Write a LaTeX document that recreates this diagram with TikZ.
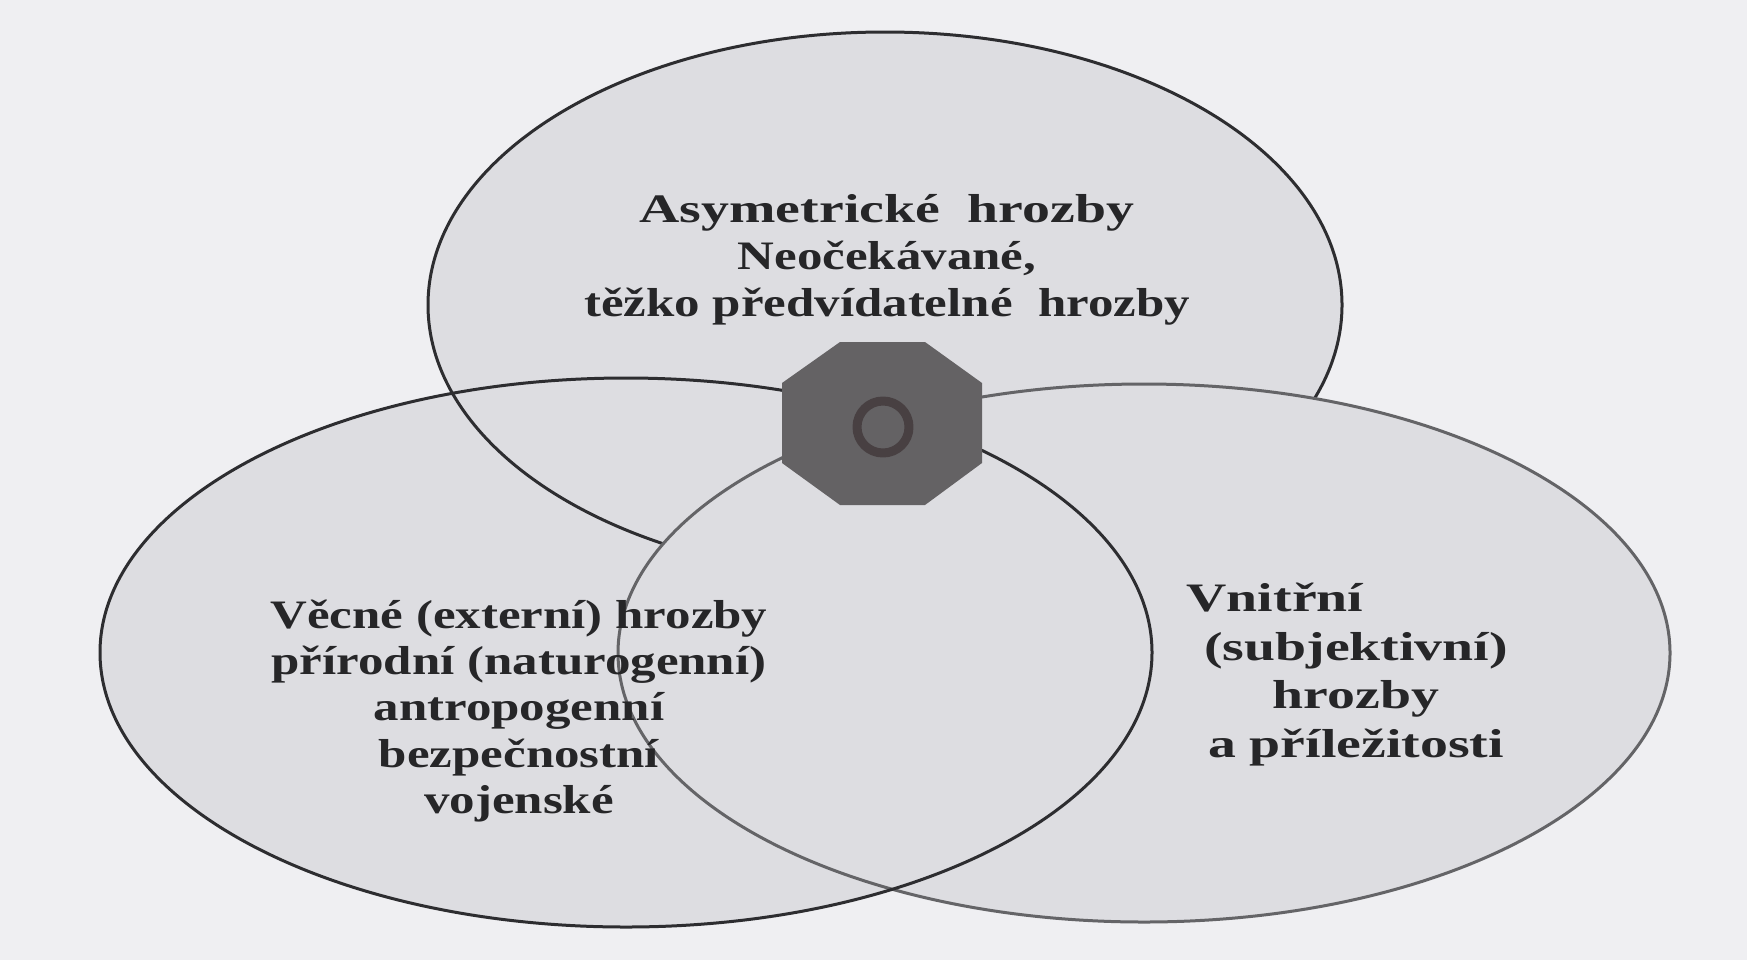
\documentclass[tikz,border=0pt]{standalone}
\usepackage{fontspec}
\setmainfont{Liberation Serif}
\newfontfamily\lblfont[FakeStretch=1.26]{Liberation Serif}
\newfontfamily\lblwide[FakeStretch=1.38]{Liberation Serif}
\usepackage{xcolor}
\usepackage{tikz}
\definecolor{paper}{RGB}{239,239,242}
\definecolor{disk}{RGB}{221,221,225}
\definecolor{rim}{RGB}{45,45,48}
\definecolor{rimlight}{RGB}{100,100,103}
\definecolor{core}{RGB}{100,98,100}
\definecolor{corering}{RGB}{72,64,66}
\definecolor{ink}{RGB}{38,38,40}

\begin{document}
\begin{tikzpicture}[line join=round,
    rimline/.style={draw=rim,line width=0.3mm},
    label/.style={align=center,text=ink,inner sep=0pt}]
  \fill[paper] (0.000,0.000) rectangle (17.470,9.600);
  \useasboundingbox (0.000,0.000) rectangle (17.470,9.600);
  \coordinate (TOP) at (8.850,6.550);
  \coordinate (LEFT) at (6.260,3.075);
  \coordinate (RIGHT) at (11.440,3.070);
  \coordinate (O1) at (7.820,5.770);
  \coordinate (O2) at (8.400,6.180);
  \coordinate (O3) at (9.250,6.180);
  \coordinate (O4) at (9.820,5.770);
  \coordinate (O5) at (9.820,4.970);
  \coordinate (O6) at (9.250,4.550);
  \coordinate (O7) at (8.400,4.550);
  \coordinate (O8) at (7.820,4.970);
  \fill[disk] (LEFT) ellipse [x radius=5.260,y radius=2.745];
  \fill[disk] (TOP) ellipse [x radius=4.570,y radius=2.730];
  \draw[rimline] (TOP) ellipse [x radius=4.570,y radius=2.730];
  \fill[disk] (RIGHT) ellipse [x radius=5.260,y radius=2.690];
  \draw[draw=rimlight,line width=0.3mm] (RIGHT) ellipse [x radius=5.260,y radius=2.690];
  \draw[rimline] (LEFT) ellipse [x radius=5.260,y radius=2.745];
  \fill[core] (O1) -- (O2) -- (O3) -- (O4) -- (O5) -- (O6) -- (O7) -- (O8) -- cycle;
  \node[circle,draw=corering,line width=0.9mm,minimum size=5.2mm,inner sep=0pt] (ring) at (8.830,5.330) {};
  \node[label,font=\lblfont\bfseries\fontsize{11.5}{13.3}\selectfont] (asym) at (8.870,7.000)
    {{\lblwide Asymetrické\ \ hrozby}\\Neočekávané,\\těžko předvídatelné\ \ hrozby};
  \node[label,font=\lblfont\bfseries\fontsize{11.5}{13.1}\selectfont] (vecne) at (5.190,2.490)
    {Věcné (externí) hrozby\\přírodní (naturogenní)\\antropogenní\\bezpečnostní\\vojenské};
  \node[label,font=\lblwide\bfseries\fontsize{11.5}{13.9}\selectfont] (vnitrni) at (13.560,2.855)
    {Vnitřní\hspace*{16.2mm}\\(subjektivní)\\hrozby\\a příležitosti};
\end{tikzpicture}
\end{document}
